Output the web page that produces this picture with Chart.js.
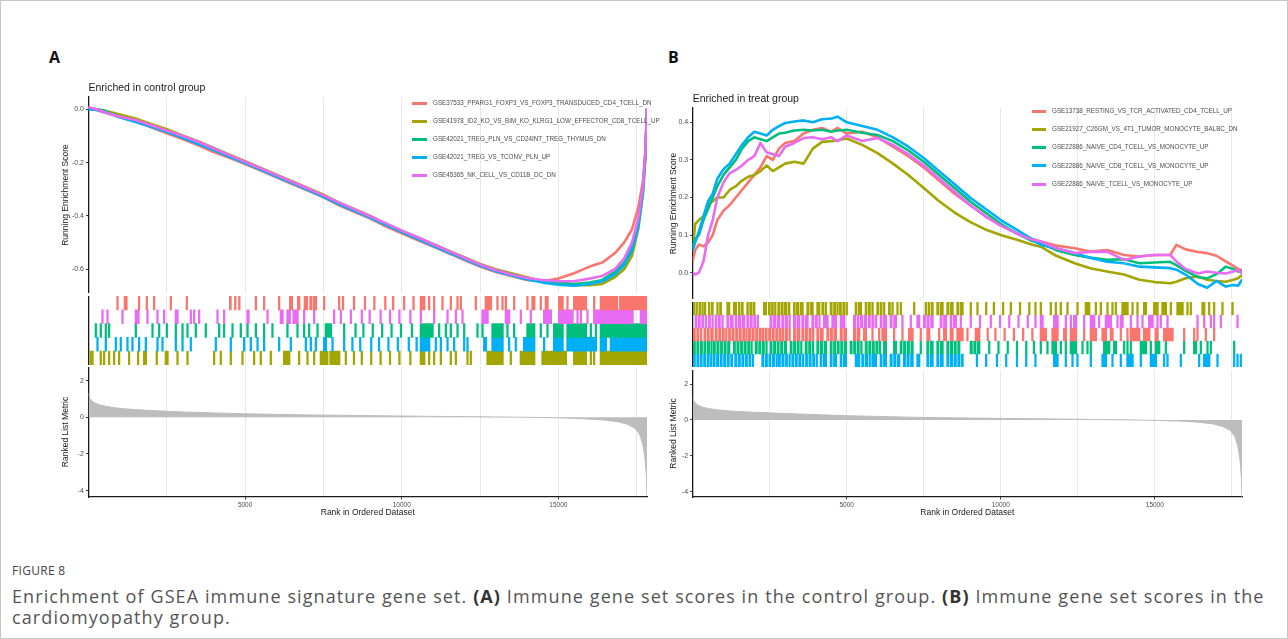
<!DOCTYPE html>
<html><head><meta charset="utf-8">
<script src="https://cdn.jsdelivr.net/npm/chart.js@4.4.1/dist/chart.umd.min.js"></script>
<style>
html,body{margin:0;padding:0;background:#fff;}
body{width:1288px;height:639px;position:relative;overflow:hidden;font-family:"Liberation Sans",Arial,sans-serif;}
.frame{position:absolute;left:0;top:0;width:1286px;height:637px;border:1px solid #c8c8c8;}
.lbl{position:absolute;font-family:"Open Sans",Arial,sans-serif;font-weight:700;font-size:16px;line-height:22px;color:#111;}
.legrow{position:absolute;height:10px;line-height:10px;white-space:nowrap;font-family:"Liberation Sans",Arial,sans-serif;font-size:6.3px;color:#4d4d4d;}
.sw{position:absolute;height:3px;}
.cap1{position:absolute;left:12px;top:562px;font-family:"Open Sans",sans-serif;font-size:12px;line-height:18px;color:#444;letter-spacing:0.3px;}
.cap2{position:absolute;left:12px;top:586px;font-family:"Open Sans",sans-serif;font-size:18px;line-height:21px;letter-spacing:1.1px;color:#555;white-space:nowrap;}
.cap2 b{color:#333;}
</style></head><body>
<div class="frame"></div>
<div class="lbl" style="left:49px;top:46px;">A</div>
<div class="lbl" style="left:668px;top:46px;">B</div>
<div class="cap1">FIGURE 8</div>
<div class="cap2">Enrichment of GSEA immune signature gene set. <b>(A)</b> Immune gene set scores in the control group. <b>(B)</b> Immune gene set scores in the<br>cardiomyopathy group.</div>
<script>
// ---------------- DATA ----------------
const colorRed = '#F8766D', colorOlive = '#A3A500', colorGreen = '#00BF7D', colorBlue = '#00B0F6', colorPink = '#E76BF3';
const seriesColors = [colorRed, colorOlive, colorGreen, colorBlue, colorPink];

const namesA = [
  'GSE37533_PPARG1_FOXP3_VS_FOXP3_TRANSDUCED_CD4_TCELL_DN',
  'GSE41978_ID2_KO_VS_BIM_KO_KLRG1_LOW_EFFECTOR_CD8_TCELL_UP',
  'GSE42021_TREG_PLN_VS_CD24INT_TREG_THYMUS_DN',
  'GSE42021_TREG_VS_TCONV_PLN_UP',
  'GSE45365_NK_CELL_VS_CD11B_DC_DN'
];
const namesB = [
  'GSE13738_RESTING_VS_TCR_ACTIVATED_CD4_TCELL_UP',
  'GSE21927_C26GM_VS_4T1_TUMOR_MONOCYTE_BALBC_DN',
  'GSE22886_NAIVE_CD4_TCELL_VS_MONOCYTE_UP',
  'GSE22886_NAIVE_CD8_TCELL_VS_MONOCYTE_UP',
  'GSE22886_NAIVE_TCELL_VS_MONOCYTE_UP'
];

const rankMax = 17830;
const xTickValues = [2500, 5000, 7500, 10000, 12500, 15000, 17500];
const yTicksEsA = [-0.6, -0.4, -0.2, 0.0];
const yTicksEsB = [0.0, 0.1, 0.2, 0.3, 0.4];
const yTicksMetric = [-4, -2, 0, 2];

// Panel A running enrichment score
const rankA = [0,250,500,750,1000,1500,2000,2500,3000,3500,4000,4500,5000,5500,6000,6500,7000,7500,8000,8500,9000,9500,10000,10500,11000,11500,12000,12500,13000,13500,14000,14500,15000,15500,16000,16400,16800,17100,17350,17550,17700,17780,17830];
const esA_red   = [0.005,-0.002,-0.012,-0.02,-0.03,-0.045,-0.068,-0.09,-0.112,-0.135,-0.16,-0.182,-0.205,-0.23,-0.255,-0.28,-0.305,-0.33,-0.36,-0.385,-0.41,-0.44,-0.465,-0.49,-0.515,-0.54,-0.565,-0.59,-0.61,-0.625,-0.64,-0.645,-0.635,-0.615,-0.59,-0.575,-0.54,-0.5,-0.45,-0.37,-0.27,-0.15,0.0];
const esA_olive = [0.005,0.0,-0.005,-0.012,-0.02,-0.035,-0.055,-0.075,-0.098,-0.12,-0.145,-0.17,-0.195,-0.22,-0.245,-0.27,-0.295,-0.32,-0.35,-0.375,-0.4,-0.43,-0.455,-0.48,-0.505,-0.53,-0.555,-0.58,-0.6,-0.615,-0.63,-0.645,-0.655,-0.66,-0.66,-0.655,-0.63,-0.6,-0.55,-0.45,-0.32,-0.18,0.0];
const esA_green = [0.0,0.0,-0.005,-0.018,-0.028,-0.045,-0.062,-0.082,-0.105,-0.128,-0.15,-0.175,-0.2,-0.225,-0.25,-0.275,-0.3,-0.327,-0.355,-0.38,-0.405,-0.433,-0.46,-0.485,-0.51,-0.535,-0.56,-0.585,-0.605,-0.62,-0.635,-0.645,-0.65,-0.655,-0.65,-0.64,-0.61,-0.575,-0.52,-0.43,-0.3,-0.17,0.0];
const esA_blue  = [0.0,-0.003,-0.01,-0.02,-0.03,-0.048,-0.066,-0.085,-0.107,-0.13,-0.153,-0.178,-0.202,-0.227,-0.252,-0.277,-0.302,-0.328,-0.356,-0.382,-0.407,-0.434,-0.46,-0.486,-0.512,-0.537,-0.562,-0.587,-0.607,-0.623,-0.638,-0.65,-0.658,-0.662,-0.655,-0.645,-0.62,-0.585,-0.53,-0.44,-0.31,-0.17,0.0];
const esA_pink  = [0.008,0.0,-0.01,-0.02,-0.028,-0.04,-0.06,-0.08,-0.1,-0.122,-0.147,-0.172,-0.197,-0.222,-0.247,-0.272,-0.297,-0.323,-0.35,-0.376,-0.402,-0.428,-0.455,-0.48,-0.506,-0.532,-0.557,-0.582,-0.603,-0.62,-0.633,-0.64,-0.645,-0.645,-0.635,-0.625,-0.6,-0.56,-0.5,-0.41,-0.29,-0.16,0.0];

// Panel B running enrichment score
const rankB = [0,80,200,350,500,650,800,1000,1200,1400,1600,1800,2000,2200,2400,2600,2800,3000,3300,3600,3900,4200,4500,4700,5000,5500,6000,6500,7000,7500,8000,8500,9000,9500,10000,10500,11000,11300,11800,12400,12900,13450,14000,14500,15000,15500,15700,16000,16400,16700,17000,17300,17550,17700,17830];
const esB_red   = [0.034,0.06,0.075,0.07,0.08,0.1,0.14,0.165,0.18,0.2,0.22,0.24,0.26,0.28,0.31,0.3,0.33,0.345,0.35,0.37,0.38,0.385,0.375,0.385,0.37,0.375,0.36,0.335,0.31,0.28,0.245,0.21,0.18,0.15,0.125,0.105,0.09,0.083,0.072,0.065,0.056,0.06,0.047,0.043,0.047,0.047,0.074,0.062,0.055,0.052,0.045,0.03,0.018,0.01,0.007];
const esB_olive = [0.06,0.13,0.14,0.15,0.18,0.19,0.2,0.2,0.22,0.23,0.245,0.255,0.26,0.27,0.285,0.27,0.28,0.29,0.295,0.29,0.33,0.348,0.35,0.352,0.357,0.34,0.318,0.29,0.26,0.225,0.19,0.16,0.135,0.115,0.1,0.088,0.075,0.069,0.045,0.025,0.012,0.003,-0.005,-0.019,-0.025,-0.028,-0.024,-0.015,-0.01,-0.019,-0.022,-0.024,-0.019,-0.015,-0.006];
const esB_green = [0.07,0.09,0.1,0.14,0.17,0.2,0.23,0.26,0.28,0.3,0.33,0.35,0.36,0.355,0.35,0.36,0.37,0.372,0.378,0.38,0.378,0.38,0.375,0.378,0.38,0.372,0.366,0.35,0.325,0.295,0.26,0.225,0.19,0.16,0.13,0.105,0.085,0.078,0.06,0.047,0.04,0.034,0.036,0.025,0.027,0.029,0.02,0.005,-0.012,-0.015,-0.004,0.016,0.01,0.003,0.003];
const esB_blue  = [0.06,0.08,0.11,0.15,0.19,0.21,0.25,0.275,0.29,0.315,0.34,0.36,0.375,0.37,0.365,0.38,0.39,0.398,0.402,0.405,0.4,0.408,0.41,0.415,0.4,0.39,0.38,0.36,0.335,0.305,0.27,0.235,0.2,0.17,0.14,0.115,0.09,0.074,0.065,0.052,0.04,0.029,0.025,0.016,0.014,0.012,0.008,-0.005,-0.03,-0.04,-0.022,-0.037,-0.033,-0.035,-0.019];
const esB_pink  = [0.0,-0.005,0.0,0.03,0.1,0.14,0.2,0.24,0.265,0.273,0.285,0.3,0.31,0.345,0.32,0.315,0.31,0.335,0.345,0.358,0.36,0.355,0.36,0.35,0.365,0.35,0.358,0.34,0.315,0.285,0.25,0.215,0.18,0.15,0.125,0.105,0.088,0.083,0.065,0.052,0.055,0.056,0.034,0.043,0.047,0.047,0.03,0.01,-0.002,0.003,0.0,-0.002,0.003,0.007,-0.002];

// Ranked list metric
const metricRank = [0,40,100,200,350,550,800,1100,1500,2000,2500,3000,4000,5000,6000,7000,8000,9000,10000,11000,12000,13000,14000,15000,15800,16400,16900,17200,17450,17600,17700,17770,17810,17830];
const metricA = [1.3,1.05,0.9,0.78,0.68,0.6,0.53,0.47,0.42,0.37,0.33,0.29,0.24,0.19,0.16,0.13,0.11,0.09,0.07,0.05,0.04,0.02,0.0,-0.03,-0.08,-0.14,-0.24,-0.38,-0.6,-0.95,-1.5,-2.3,-3.2,-4.3];
const metricB = [1.3,1.05,0.92,0.8,0.7,0.63,0.57,0.52,0.47,0.43,0.4,0.36,0.3,0.24,0.2,0.16,0.13,0.11,0.09,0.07,0.05,0.03,0.01,-0.02,-0.06,-0.12,-0.22,-0.36,-0.58,-0.92,-1.5,-2.3,-3.2,-4.3];

// Hit positions (rank ranges) for the rug panels
const hitsA_red = [[900,900],[1134,1239],[1590,1590],[1836,1836],[2069,2069],[2602,2602],[3113,3113],[4496,4560],[4660,4700],[4790,4837],[5317,5317],[5581,5581],[6060,6060],[6412,6519],[6667,6753],[6880,7000],[7060,7140],[7180,7287],[7498,7498],[7977,8000],[8100,8137],[8450,8450],[8800,8830],[9100,9100],[9450,9450],[9700,9730],[10050,10050],[10350,10350],[10585,10745],[10850,10850],[11010,11010],[11276,11276],[11542,11542],[11755,11755],[11861,11861],[12340,12340],[12659,12872],[13031,13031],[13191,13191],[13297,13350],[13563,13563],[13988,13988],[14148,14255],[14414,14414],[14574,14681],[15000,15160],[15266,15266],[15479,15905],[16118,16118],[16331,16900],[16950,17830]];
const hitsA_pink = [[421,421],[581,581],[1060,1060],[1485,1622],[1858,1858],[2177,2177],[2390,2390],[2762,2868],[3241,3241],[3347,3347],[3507,3507],[4093,4093],[4305,4305],[5051,5134],[5690,5690],[6115,6221],[6328,6450],[6520,6699],[6860,6860],[7179,7179],[7817,7817],[8030,8030],[8350,8350],[8700,8700],[8950,8980],[9300,9300],[9600,9600],[9900,9950],[10250,10250],[10585,10585],[11010,11010],[11436,11436],[11702,11702],[11915,11915],[12553,12766],[13297,13457],[13776,13776],[14095,14095],[14521,14787],[15000,15479],[15586,15586],[15693,15693],[15905,15905],[16118,17395],[17608,17830]];
const hitsA_green = [[208,208],[367,367],[527,527],[633,633],[1485,1485],[2018,2018],[2230,2230],[2475,2475],[2762,2762],[2976,2976],[3135,3135],[3400,3400],[3720,3720],[4146,4146],[4305,4305],[4572,4572],[4837,4837],[5051,5051],[5317,5317],[5581,5581],[5847,5847],[6326,6326],[6646,6646],[6859,6859],[7019,7019],[7286,7286],[7551,7765],[8137,8137],[8500,8500],[8750,8750],[9050,9050],[9350,9380],[9650,9650],[9950,9950],[10300,10300],[10585,11010],[11169,11169],[11383,11383],[11542,11542],[11755,11755],[11968,11968],[12393,12393],[12553,12553],[12872,13244],[13350,13350],[13563,13563],[13988,14255],[14414,14414],[14627,14627],[14840,15160],[15266,15905],[16012,16012],[16172,16172],[16331,17830]];
const hitsA_blue = [[262,262],[527,527],[846,846],[1006,1006],[1219,1219],[1378,1378],[1590,1590],[1804,1858],[2177,2177],[2337,2337],[2762,2762],[2976,3028],[3241,3241],[4039,4039],[4518,4518],[4943,4943],[5157,5157],[5371,5371],[5581,5581],[6060,6060],[6434,6434],[6913,6913],[7073,7073],[7232,7232],[7498,7604],[7765,7765],[8137,8137],[8400,8400],[8650,8680],[9000,9000],[9250,9250],[9550,9580],[9850,9850],[10200,10200],[10450,10450],[10585,10904],[11063,11063],[11223,11223],[11436,11436],[11648,11648],[11968,11968],[12074,12074],[12606,12713],[12872,13244],[13403,13403],[13616,13616],[13882,14255],[14521,14521],[14840,15160],[15266,16224],[16331,16544],[16650,17830]];
const hitsA_olive = [[48,154],[367,367],[474,474],[633,633],[793,793],[952,952],[1271,1271],[1558,1558],[1750,1858],[2155,2155],[2443,2549],[2816,2816],[3135,3135],[3985,3985],[4199,4199],[4518,4518],[4891,4891],[5262,5262],[5475,5475],[5795,5795],[6221,6434],[6699,6699],[6966,6966],[7179,7179],[7392,7650],[7700,8030],[8190,8190],[8450,8450],[8700,8730],[9000,9000],[9300,9300],[9600,9600],[9900,9930],[10250,10250],[10585,10745],[10850,10850],[11010,11010],[11223,11223],[11542,11542],[11702,11702],[12074,12074],[12180,12180],[12713,13244],[13457,13457],[13776,14255],[14468,15266],[15479,15905],[16012,16012],[16118,16118],[16331,17830]];

const hitsB_olive = [[21,70],[105,150],[200,260],[295,345],[375,399],[508,560],[600,670],[778,830],[870,940],[1103,1211],[1319,1427],[1481,1540],[1580,1644],[1752,1810],[1850,1930],[1965,2023],[2293,2401],[2455,2520],[2555,2620],[2655,2700],[2760,2830],[2865,2940],[2975,3050],[3090,3159],[3267,3330],[3365,3440],[3480,3591],[3700,3780],[3820,3916],[4024,4132],[4187,4250],[4290,4349],[4457,4530],[4570,4640],[4675,4700],[4760,4830],[4870,4940],[4975,4998],[5269,5330],[5370,5485],[5593,5660],[5700,5770],[5810,5864],[5972,6040],[6080,6150],[6190,6242],[6351,6420],[6460,6513],[6621,6621],[6729,6729],[7162,7162],[7541,7600],[7640,7700],[7740,7811],[7919,7990],[8030,8136],[8244,8310],[8350,8460],[8569,8640],[8680,8785],[9001,9001],[9218,9218],[9500,9500],[9750,9800],[10050,10050],[10300,10350],[10600,10600],[10900,10950],[11100,11100],[11274,11274],[11599,11599],[11761,11761],[11923,11923],[12140,12140],[12464,12464],[12735,12897],[13059,13059],[13222,13276],[13438,13438],[13600,13600],[13709,13709],[13925,14141],[14250,14250],[14412,14412],[14628,14736],[14953,15115],[15223,15386],[15494,15494],[15710,15927],[16035,16035],[16143,16143],[16522,16630],[16738,16738],[16900,16900],[17171,17171],[17495,17550]];
const hitsB_pink = [[75,140],[175,250],[290,360],[400,454],[508,580],[620,670],[724,790],[830,900],[940,995],[1103,1170],[1210,1319],[1373,1440],[1480,1560],[1600,1698],[1752,1820],[1860,1940],[1980,2050],[2090,2131],[2509,2580],[2620,2700],[2740,2834],[2888,2960],[3000,3080],[3120,3159],[3267,3340],[3380,3483],[3537,3610],[3650,3754],[3862,3930],[3970,4050],[4090,4132],[4241,4403],[4511,4674],[4782,4944],[5214,5290],[5330,5400],[5440,5520],[5560,5647],[5701,5770],[5810,5890],[5930,5972],[6080,6150],[6190,6296],[6404,6480],[6520,6621],[6783,6783],[7054,7054],[7270,7378],[7487,7560],[7600,7680],[7720,7811],[8028,8100],[8140,8244],[8352,8420],[8460,8569],[8677,8677],[9000,9000],[9300,9350],[9650,9650],[9950,10000],[10250,10250],[10550,10600],[10850,10850],[11100,11150],[11274,11382],[11707,11869],[12085,12085],[12248,12248],[12356,12464],[12681,12681],[12897,13059],[13168,13168],[13384,13600],[13763,13763],[13871,13979],[14195,14195],[14412,14412],[14574,14574],[14790,14953],[15061,15061],[15169,15169],[15386,15386],[16360,16360],[16576,16576],[16792,16792],[16900,16900],[17117,17117],[17658,17658]];
const hitsB_red = [[21,90],[130,200],[240,300],[360,430],[470,540],[580,670],[724,800],[840,910],[950,1030],[1065,1100],[1160,1230],[1270,1350],[1390,1460],[1500,1580],[1620,1690],[1720,1752],[1806,1880],[1920,2000],[2040,2110],[2150,2230],[2260,2293],[2347,2420],[2460,2540],[2580,2650],[2690,2770],[2805,2834],[2888,2960],[3000,3080],[3120,3159],[3267,3340],[3380,3483],[3537,3610],[3650,3730],[3770,3850],[3885,3916],[4024,4100],[4140,4241],[4349,4420],[4460,4540],[4580,4674],[4782,4860],[4900,4998],[5214,5290],[5330,5431],[5539,5647],[5810,5810],[6026,6026],[6134,6296],[6513,6513],[6783,6783],[7000,7162],[7378,7378],[7595,7703],[7974,7974],[8136,8244],[8352,8460],[8569,8785],[8893,8893],[9163,9326],[9550,9550],[9800,9850],[10100,10100],[10400,10450],[10700,10700],[11000,11050],[11274,11490],[11653,11869],[12031,12140],[12248,12464],[12681,12681],[12897,13113],[13276,13438],[13546,13654],[13871,13871],[14087,14087],[14195,14520],[14628,14845],[15007,15115],[15278,15602],[15927,15927],[16251,16251],[16360,16360],[16630,16630],[16900,16900]];
const hitsB_green = [[21,90],[130,200],[240,320],[360,430],[470,550],[585,616],[670,740],[780,860],[900,970],[1010,1090],[1130,1211],[1319,1390],[1430,1510],[1550,1620],[1660,1740],[1780,1850],[1885,1914],[2023,2100],[2140,2220],[2260,2330],[2370,2401],[2509,2580],[2620,2700],[2740,2810],[2850,2930],[2970,3050],[3159,3230],[3270,3350],[3390,3460],[3500,3537],[3645,3720],[3760,3840],[3880,3916],[4024,4100],[4140,4220],[4260,4349],[4457,4530],[4570,4650],[4690,4760],[4800,4880],[4920,4998],[5106,5180],[5220,5300],[5340,5410],[5450,5485],[5593,5670],[5710,5790],[5830,5900],[5940,6020],[6055,6080],[6188,6296],[6513,6621],[6729,6800],[6840,6920],[6960,7040],[7080,7162],[7378,7378],[7595,7670],[7710,7811],[7919,7990],[8030,8136],[8244,8320],[8360,8440],[8480,8560],[8600,8677],[9001,9080],[9120,9200],[9240,9326],[9600,9600],[9900,9950],[10200,10200],[10500,10550],[10800,10800],[11050,11050],[11274,11274],[11490,11490],[11653,11815],[11923,11923],[12085,12085],[12248,12464],[12627,12627],[12789,12789],[12897,12897],[13330,13546],[13654,13763],[13979,13979],[14087,14087],[14195,14195],[14520,14736],[14845,14845],[15007,15169],[15332,15332],[15927,15927],[16251,16360],[16468,16468],[16684,16684],[16792,16792],[17550,17550]];
const hitsB_blue = [[21,90],[130,200],[240,310],[350,430],[470,540],[575,600],[660,730],[770,850],[890,960],[1000,1080],[1120,1190],[1230,1300],[1360,1430],[1470,1550],[1590,1660],[1700,1780],[1820,1890],[1930,1968],[2239,2310],[2350,2430],[2470,2540],[2580,2660],[2700,2726],[2780,2850],[2890,2970],[3010,3080],[3120,3159],[3213,3290],[3330,3400],[3440,3520],[3560,3600],[3660,3730],[3770,3850],[3890,3960],[4000,4024],[4132,4200],[4240,4349],[4457,4530],[4570,4674],[4782,4850],[4890,4998],[5269,5431],[5485,5560],[5600,5680],[5720,5755],[5810,5972],[6080,6150],[6190,6296],[6404,6480],[6520,6600],[6640,6729],[6837,6910],[6950,7030],[7070,7162],[7270,7378],[7595,7670],[7710,7811],[7919,7990],[8030,8136],[8244,8320],[8360,8440],[8480,8560],[8600,8680],[8720,8785],[9200,9200],[9500,9550],[9850,9850],[10150,10200],[10500,10500],[10800,10850],[11100,11100],[11707,11869],[12085,12085],[12302,12302],[12464,12464],[12897,12897],[13276,13438],[13600,13600],[13871,13871],[14087,14304],[14520,14520],[14845,15061],[15278,15278],[15386,15386],[15819,15819],[16414,16414],[16576,16792],[17009,17009],[17550,17550],[17658,17658],[17766,17766]];

// rug row order (top to bottom)
const rugA = [[hitsA_red, colorRed],[hitsA_pink, colorPink],[hitsA_green, colorGreen],[hitsA_blue, colorBlue],[hitsA_olive, colorOlive]];
const rugB = [[hitsB_olive, colorOlive],[hitsB_pink, colorPink],[hitsB_red, colorRed],[hitsB_green, colorGreen],[hitsB_blue, colorBlue]];

// ---------------- CHARTS ----------------
Chart.defaults.font.family = '"Liberation Sans", Arial, sans-serif';
Chart.defaults.animation = false;
Chart.defaults.events = [];
Chart.defaults.plugins.legend.display = false;
Chart.defaults.plugins.tooltip.enabled = false;

const AXIS_COLOR = '#1a1a1a', GRID_COLOR = '#e8e8e8', TICK_TXT = '#4d4d4d';

function makeCanvas(left, top, w, h) {
  const c = document.createElement('canvas');
  c.width = w; c.height = h;
  c.style.cssText = `position:absolute;left:${left}px;top:${top}px;width:${w}px;height:${h}px;`;
  document.body.appendChild(c);
  return c.getContext('2d');
}
function pts(xs, ys) { return xs.map((x, i) => ({x: x, y: ys[i]})); }

function xScale(showLabels, hx, padBottom) {
  return {
    type: 'linear', min: 0, max: rankMax,
    afterBuildTicks: s => { s.ticks = xTickValues.map(v => ({value: v})); },
    ticks: { display: showLabels, autoSkip: false, maxRotation: 0, color: TICK_TXT, font: {size: 6.5}, padding: 1.5,
             callback: v => (v % 5000 === 0 ? String(v) : '') },
    grid: { display: true, color: GRID_COLOR, lineWidth: 1, drawTicks: showLabels, tickLength: 2.5,
            tickColor: ctx => (ctx.tick && ctx.tick.value % 5000 === 0) ? '#333' : 'rgba(0,0,0,0)' },
    border: { display: showLabels, color: AXIS_COLOR, width: 1.3 },
    title: showLabels ? { display: true, text: 'Rank in Ordered Dataset', color: AXIS_COLOR, font: {size: 8.5}, padding: {top: 0, bottom: padBottom} } : {display: false},
    afterFit: s => { s.height = hx; s.paddingLeft = 0; s.paddingRight = 0; }
  };
}
function yScale(min, max, ticks, fmt, title, wy, titlePad) {
  return {
    type: 'linear', min: min, max: max,
    afterBuildTicks: s => { s.ticks = ticks.map(v => ({value: v})); },
    ticks: { autoSkip: false, color: TICK_TXT, font: {size: 7}, padding: 2, callback: fmt },
    grid: { drawOnChartArea: false, drawTicks: true, tickLength: 2.5, tickColor: '#333' },
    border: { display: true, color: AXIS_COLOR, width: 1.3 },
    title: { display: true, text: title, color: AXIS_COLOR, font: {size: 8.5}, padding: {top: titlePad, bottom: 0} },
    afterFit: s => { s.width = wy; s.paddingTop = 0; s.paddingBottom = 0; }
  };
}

function buildPanel(P) {
  const canvasLeft = P.left;
  const wy = P.areaL - canvasLeft;
  const width = P.canvasRight - canvasLeft;
  const padR = P.canvasRight - P.areaR;

  // Top: running enrichment score
  const titleH = 20;
  const ctxTop = makeCanvas(canvasLeft, P.top.t - titleH, width, P.top.b - (P.top.t - titleH));
  new Chart(ctxTop, {
    type: 'line',
    data: { datasets: P.es.map((ys, i) => ({
      data: pts(P.rank, ys), borderColor: seriesColors[i], backgroundColor: seriesColors[i],
      borderWidth: 2.6, pointRadius: 0, tension: 0, fill: false,
      borderJoinStyle: 'round', borderCapStyle: 'round', order: 4 - i })) },
    options: {
      responsive: false, devicePixelRatio: 1, layout: { padding: { left: 0, top: 0, right: padR, bottom: 0 } },
      scales: { x: xScale(false, 0, 0), y: yScale(P.top.min, P.top.max, P.top.ticks, v => v.toFixed(1), 'Running Enrichment Score', wy, P.yTitlePad) },
      plugins: { title: { display: true, text: P.title, align: 'start', fullSize: false, color: AXIS_COLOR,
                          font: {size: 10.5, weight: 'normal'}, padding: {top: 4.7, bottom: 2.7} } }
    }
  });

  // Rug: hit positions
  const rowKeys = ['r0','r1','r2','r3','r4'];
  const ctxRug = makeCanvas(canvasLeft, P.rug.t, width, P.rug.b - P.rug.t);
  new Chart(ctxRug, {
    type: 'bar',
    data: { labels: rowKeys, datasets: P.rugRows.map((row, i) => ({
      data: row[0].map(h => ({x: h, y: rowKeys[i]})), backgroundColor: row[1], borderWidth: 0,
      barPercentage: 1, categoryPercentage: 1, grouped: false, minBarLength: 1.6 })) },
    options: {
      indexAxis: 'y', responsive: false, devicePixelRatio: 1,
      layout: { padding: { left: 0, top: 0, right: padR, bottom: 0 } },
      scales: {
        x: xScale(false, 0, 0),
        y: { type: 'category', labels: rowKeys, ticks: {display: false}, grid: {display: false, drawTicks: false},
             border: { display: true, color: AXIS_COLOR, width: 1.3 },
             afterFit: s => { s.width = wy; s.paddingTop = 0; s.paddingBottom = 0; } }
      }
    }
  });

  // Bottom: ranked list metric
  const hx = 24;
  const ctxBot = makeCanvas(canvasLeft, P.bot.t, width, P.bot.b + hx - P.bot.t);
  new Chart(ctxBot, {
    type: 'line',
    data: { datasets: [{ data: pts(metricRank, P.metric), borderColor: '#bdbdbd', backgroundColor: '#bdbdbd',
             borderWidth: 1, pointRadius: 0, tension: 0, fill: 'origin' }] },
    options: {
      responsive: false, devicePixelRatio: 1, layout: { padding: { left: 0, top: 0, right: padR, bottom: 0 } },
      scales: { x: xScale(true, hx, 2.9), y: yScale(P.bot.min, P.bot.max, yTicksMetric, v => String(v), 'Ranked List Metric', wy, P.yTitlePad) }
    }
  });

  // Legend (HTML)
  P.names.forEach((nm, i) => {
    const cy = P.leg.rows[i];
    const sw = document.createElement('div');
    sw.className = 'sw';
    sw.style.cssText = `left:${P.leg.swL}px;top:${cy - 1.5}px;width:${P.leg.swW}px;background:${seriesColors[i]};`;
    document.body.appendChild(sw);
    const t = document.createElement('div');
    t.className = 'legrow';
    t.style.left = P.leg.txtL + 'px';
    t.style.top = (cy - 5) + 'px';
    t.textContent = nm;
    document.body.appendChild(t);
  });
}

buildPanel({
  left: 48, areaL: 88.5, areaR: 647, canvasRight: 649, yTitlePad: 12.9,
  title: 'Enriched in control group',
  rank: rankA, es: [esA_red, esA_olive, esA_green, esA_blue, esA_pink],
  top: { t: 97, b: 293, min: -0.689, max: 0.046, ticks: yTicksEsA },
  rug: { t: 296, b: 365 },
  bot: { t: 367, b: 497, min: -4.35, max: 2.745 },
  metric: metricA, rugRows: rugA, names: namesA,
  leg: { swL: 412, swW: 15, txtL: 433, rows: [103.3, 121, 139.3, 157.3, 175] }
});
buildPanel({
  left: 652, areaL: 692.7, areaR: 1242, canvasRight: 1244, yTitlePad: 16.9,
  title: 'Enriched in treat group',
  rank: rankB, es: [esB_red, esB_olive, esB_green, esB_blue, esB_pink],
  top: { t: 108, b: 299, min: -0.07, max: 0.438, ticks: yTicksEsB },
  rug: { t: 302, b: 367 },
  bot: { t: 370, b: 497, min: -4.302, max: 2.793 },
  metric: metricB, rugRows: rugB, names: namesB,
  leg: { swL: 1032, swW: 14, txtL: 1052, rows: [111, 129.3, 147.3, 165.7, 184] }
});
</script>
</body></html>
